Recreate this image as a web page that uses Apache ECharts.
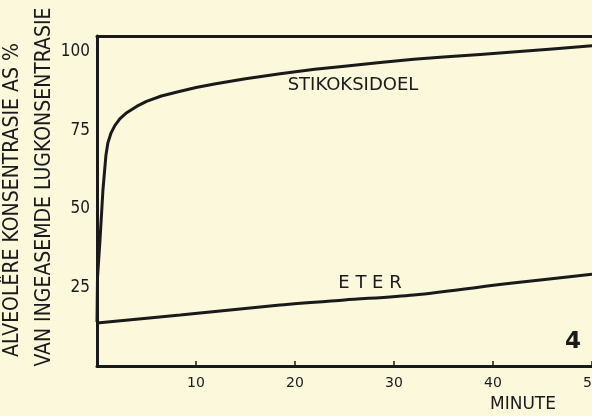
<!DOCTYPE html>
<html>
<head>
<meta charset="utf-8">
<script src="https://cdn.jsdelivr.net/npm/echarts@6/dist/echarts.min.js"></script>
<style>
    html, body { margin: 0; padding: 0; background: #fbf8dc; }
    #chart { width: 592px; height: 416px; }
</style>
</head>
<body>
<div id="chart"></div>
<script>
// stikoksidoel (nitrous oxide) curve: minutes / percent
const noMinutes = [0, 0.05, 0.3, 0.6, 0.9, 1.1, 1.4, 1.8, 2.3, 3.0, 4.0, 5.0, 6.5, 8.0, 10, 12, 15, 18.5, 22, 25, 28.6, 32, 35, 38.7, 42, 46, 50];
const noValues = [14, 28, 40, 56, 67, 71, 74, 76.5, 78.6, 80.6, 82.6, 84.2, 85.9, 87.1, 88.6, 89.8, 91.4, 93, 94.4, 95.4, 96.6, 97.6, 98.3, 99.1, 99.9, 100.9, 101.9];

// eter (ether) curve
const eterMinutes = [0, 8.4, 18.5, 25, 32, 42, 50];
const eterValues = [13.7, 16.2, 19.4, 21, 22.6, 26.4, 29.2];

const yTicks = [25, 50, 75, 100];
const xTicks = [10, 20, 30, 40, 50];

const ink = "#1a1a1a";
const font = "DejaVu Sans Condensed";

const pairs = (xs, ys) => xs.map((x, i) => [x, ys[i]]);

const chart = echarts.init(document.getElementById("chart"));
chart.setOption({
    backgroundColor: "#fbf8dc",
    animation: false,
    grid: { left: 97, right: 0, top: 36, bottom: 50, containLabel: false, outerBoundsMode: "none" },
    xAxis: [
        {
            type: "value",
            min: 0,
            max: 50,
            interval: 10,
            axisLine: { show: true, lineStyle: { color: ink, width: 3 } },
            axisTick: { show: true, inside: true, length: 5, lineStyle: { color: ink, width: 1.5 } },
            splitLine: { show: false },
            axisLabel: {
                color: ink,
                fontFamily: "DejaVu Sans",
                fontSize: 14,
                margin: 10,
                formatter: v => xTicks.includes(v) ? String(v) : ""
            }
        },
        {
            type: "value",
            position: "top",
            min: 0,
            max: 50,
            axisLine: { show: true, lineStyle: { color: ink, width: 3 } },
            axisTick: { show: false },
            axisLabel: { show: false },
            splitLine: { show: false }
        }
    ],
    yAxis: {
        type: "value",
        min: 0,
        max: 105,
        interval: 25,
        axisLine: { show: true, lineStyle: { color: ink, width: 3 } },
        axisTick: { show: false },
        splitLine: { show: false },
        axisLabel: {
            color: ink,
            fontFamily: font,
            fontSize: 17,
            margin: 7,
            padding: [8, 0, 0, 0],
            formatter: v => yTicks.includes(v) ? String(v) : ""
        }
    },
    series: [
        {
            name: "STIKOKSIDOEL",
            type: "line",
            data: pairs(noMinutes, noValues),
            showSymbol: false,
            lineStyle: { color: ink, width: 3, join: "round" }
        },
        {
            name: "ETER",
            type: "line",
            data: pairs(eterMinutes, eterValues),
            showSymbol: false,
            smooth: 0.3,
            lineStyle: { color: ink, width: 3 }
        }
    ],
    graphic: [
        {
            type: "text", x: 13, y: 200, rotation: Math.PI / 2,
            style: { text: "ALVEOLÊRE KONSENTRASIE AS %", fill: ink, font: `21px "${font}"`, align: "center", verticalAlign: "middle" }
        },
        {
            type: "text", x: 45, y: 187, rotation: Math.PI / 2,
            style: { text: "VAN INGEASEMDE LUGKONSENTRASIE", fill: ink, font: `21px "${font}"`, align: "center", verticalAlign: "middle" }
        },
        {
            type: "text", x: 353, y: 85,
            style: { text: "STIKOKSIDOEL", fill: ink, font: `18px "DejaVu Sans"`, align: "center", verticalAlign: "middle" }
        },
        {
            type: "text", x: 370, y: 283,
            style: { text: "E T E R", fill: ink, font: `18px "DejaVu Sans"`, align: "center", verticalAlign: "middle" }
        },
        {
            type: "text", x: 573, y: 342,
            style: { text: "4", fill: ink, font: `bold 23px "DejaVu Sans"`, align: "center", verticalAlign: "middle" }
        },
        {
            type: "text", x: 523, y: 405,
            style: { text: "MINUTE", fill: ink, font: `17px "DejaVu Sans"`, align: "center", verticalAlign: "middle" }
        }
    ]
});
</script>
</body>
</html>
